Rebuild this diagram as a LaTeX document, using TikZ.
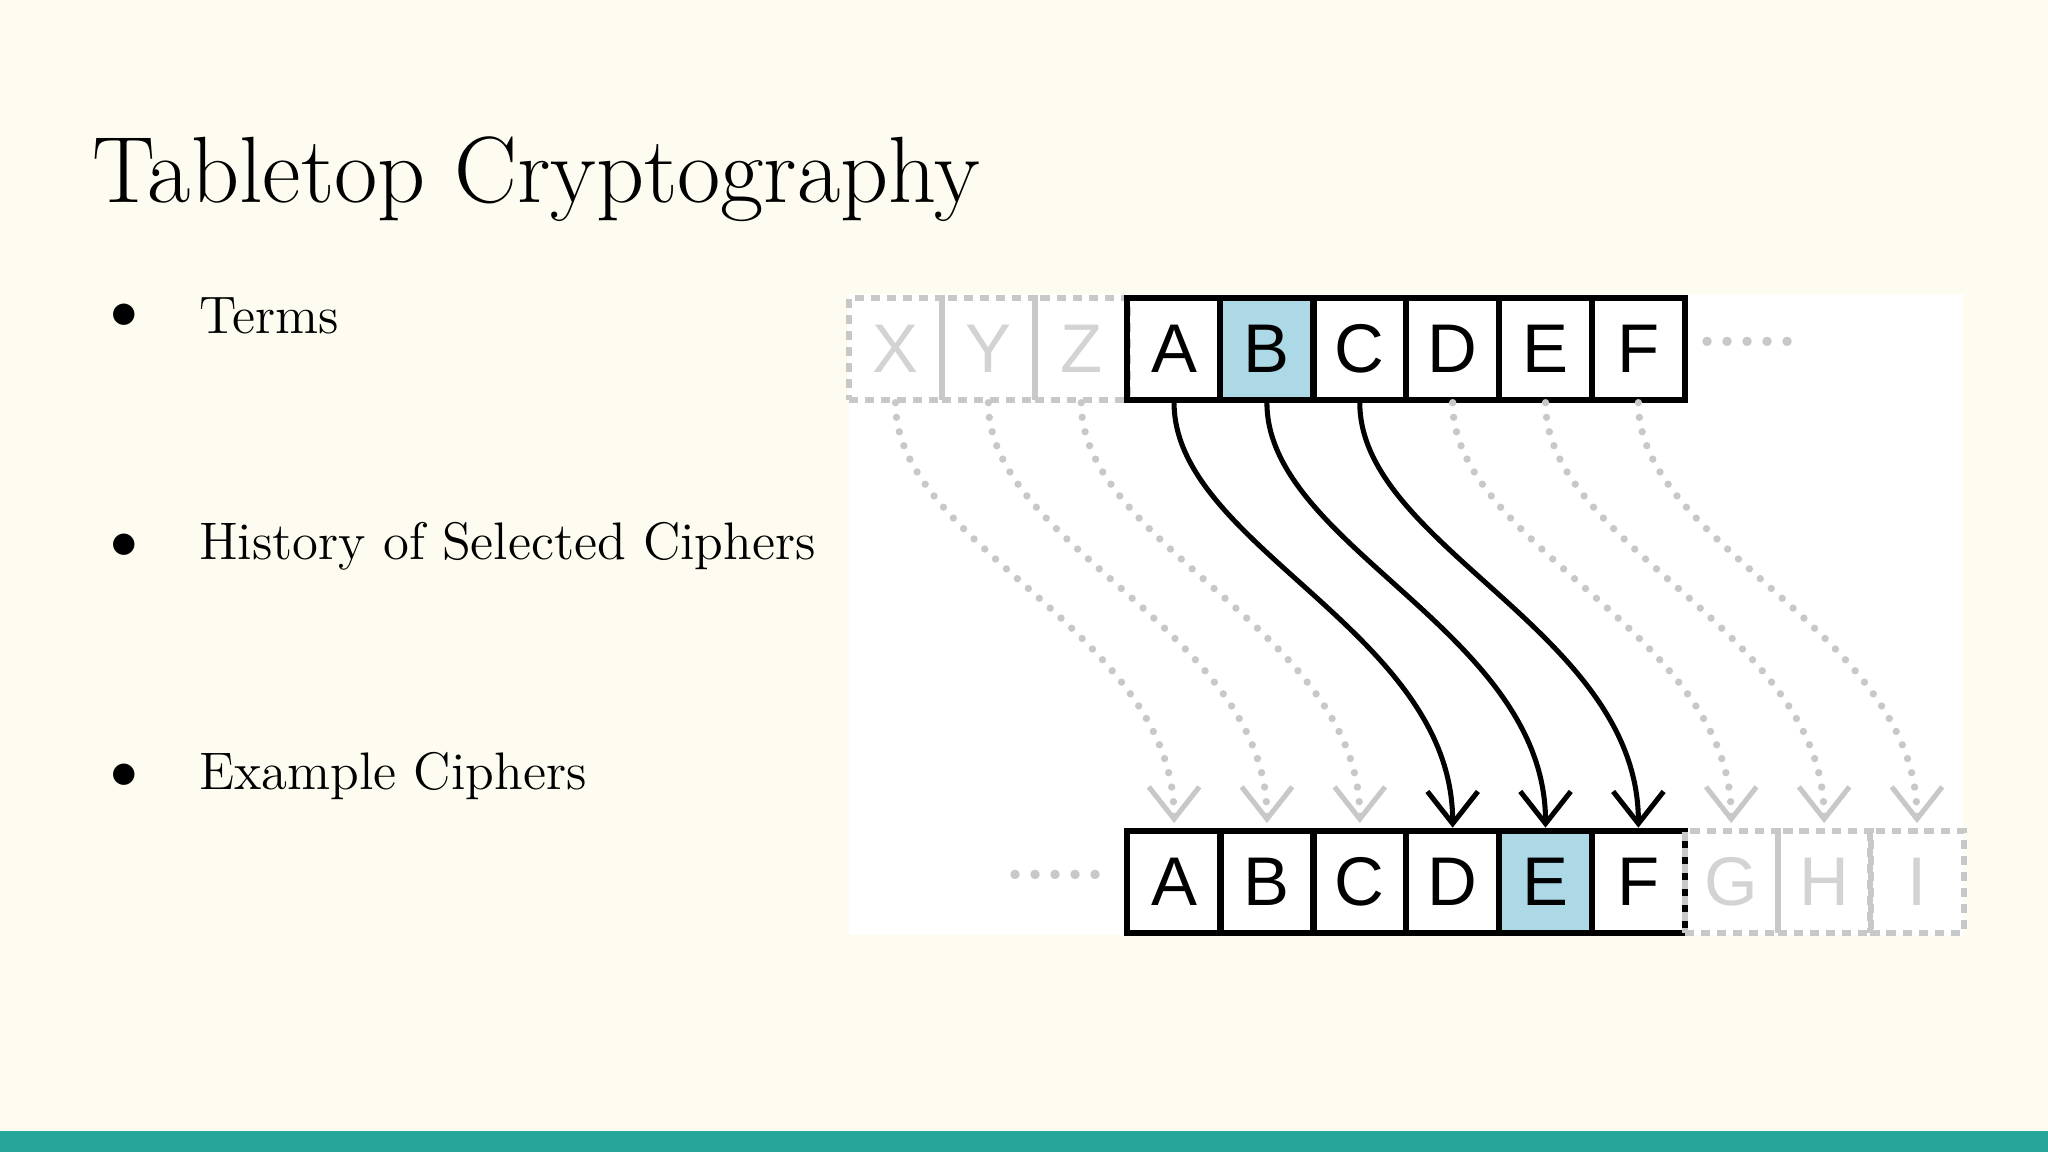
\documentclass[tikz,border=0pt]{standalone}
\usepackage{fontspec}
\newfontfamily\cellfont{Liberation Sans}
\usetikzlibrary{arrows.meta}
\definecolor{bg}{HTML}{FEFCF0}
\definecolor{teal}{HTML}{26A69A}
\definecolor{hl}{HTML}{ADD8E6}
\definecolor{gr}{HTML}{C8C8C8}
\tikzset{
 cell/.style={draw=black,line width=1.3pt,minimum width=0.713cm,minimum height=0.78cm,inner sep=0,font=\cellfont\fontsize{15}{15}\selectfont},
 gcell/.style={draw=gr,line width=1.3pt,dash pattern=on 2pt off 1.5pt,text=gr!80,minimum width=0.713cm,minimum height=0.78cm,inner sep=0,font=\cellfont\fontsize{15}{15}\selectfont},
 blk/.style={line width=1.1pt,-{Straight Barb[length=7pt,width=11pt,line width=1.1pt]}},
 gry/.style={gr,line width=1.6pt,line cap=round,dash pattern=on 0pt off 3.2pt,-{Straight Barb[length=7pt,width=11pt,line width=1.1pt,sep=1pt]}},
 bul/.style={anchor=west,font=\fontsize{11.5}{13}\selectfont},
}
\begin{document}
\begin{tikzpicture}[x=0.01cm,y=-0.01cm]
\fill[bg] (0,0) rectangle (1568,882);
\useasboundingbox (0,0) rectangle (1568,882);
\fill[teal] (0,866) rectangle (1568,882);
\node[anchor=base west,font=\fontsize{20.5}{24}\selectfont,inner sep=0] (title) at (70,155) {Tabletop Cryptography};
\foreach \y/\t [count=\i] in {242/Terms,418/History of Selected Ciphers,594/Example Ciphers}{
 \node[font=\fontsize{13}{13}\selectfont] (b\i) at (95,\y) {$\bullet$};
 \node[bul] (t\i) at (140,\y) {\t};
}
\fill[white] (650,225) rectangle (1503,716);
% top row
\foreach \l [count=\k from 0] in {X,Y,Z}
 \node[gcell] (u\l) at (685.6+71.1*\k,267) {\l};
\node[cell] (uA) at (685.6+71.1*3,267) {A};
\node[cell,fill=hl] (uB) at (685.6+71.1*4,267) {B};
\node[cell] (uC) at (685.6+71.1*5,267) {C};
\node[cell] (uD) at (685.6+71.1*6,267) {D};
\node[cell] (uE) at (685.6+71.1*7,267) {E};
\node[cell] (uF) at (685.6+71.1*8,267) {F};
\node[gr,font=\bfseries\fontsize{14}{14}\selectfont] (ud) at (1338,262) {.....};
% bottom row
\node[cell] (dA) at (685.6+71.1*3,675) {A};
\node[cell] (dB) at (685.6+71.1*4,675) {B};
\node[cell] (dC) at (685.6+71.1*5,675) {C};
\node[cell] (dD) at (685.6+71.1*6,675) {D};
\node[cell,fill=hl] (dE) at (685.6+71.1*7,675) {E};
\node[cell] (dF) at (685.6+71.1*8,675) {F};
\foreach \l [count=\k from 9] in {G,H,I}
 \node[gcell] (d\l) at (685.6+71.1*\k,675) {\l};
\node[gr,font=\bfseries\fontsize{14}{14}\selectfont] (dd) at (808,670) {.....};
% arrows
\foreach \a/\b in {X/A,Y/B,Z/C,D/G,E/H,F/I}
 \draw[gry] (u\a.south) .. controls ++(0,110) and ++(0,-150) .. (d\b.north);
\foreach \a/\b in {A/D,B/E,C/F}
 \draw[blk] (u\a.south) .. controls ++(0,110) and ++(0,-150) .. (d\b.north);
\end{tikzpicture}
\end{document}
